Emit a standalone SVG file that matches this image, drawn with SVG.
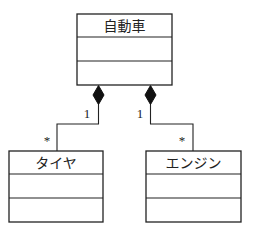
<svg xmlns="http://www.w3.org/2000/svg" width="253" height="232" viewBox="0 0 253 232">
<style>
.box{fill:#fff;stroke:#222;stroke-width:1.3}
.div{stroke:#222;stroke-width:1.1}
.name{font-family:"Noto Sans CJK JP","Liberation Sans",sans-serif;font-size:14px;fill:#222;text-anchor:middle}
.mult{font-family:"Liberation Serif",serif;font-size:13px;fill:#222;text-anchor:middle}
.conn{fill:none;stroke:#222;stroke-width:1.1}
.dia{fill:#111;stroke:#111;stroke-width:1}
</style>
<rect width="253" height="232" fill="#fff"/>
<g id="connectors">
<polyline class="conn" points="98.5,104 98.5,124 57,124 57,151"/>
<polygon class="dia" points="98.5,85.5 104,95 98.5,104.5 93,95"/>
<polyline class="conn" points="150.5,104 150.5,124 193,124 193,151"/>
<polygon class="dia" points="150.5,85.5 156,95 150.5,104.5 145,95"/>
<text class="mult" x="87" y="118">1</text>
<text class="mult" x="140" y="118">1</text>
<text class="mult" x="47" y="145">*</text>
<text class="mult" x="182" y="145">*</text>
</g>
<g id="car">
<rect class="box" x="77" y="14" width="95" height="71"/>
<line class="div" x1="77" y1="37" x2="172" y2="37"/>
<line class="div" x1="77" y1="61" x2="172" y2="61"/>
<text class="name" x="124.5" y="31">自動車</text>
</g>
<g id="tire">
<rect class="box" x="9" y="151" width="94" height="71"/>
<line class="div" x1="9" y1="174" x2="103" y2="174"/>
<line class="div" x1="9" y1="198" x2="103" y2="198"/>
<text class="name" x="56" y="168">タイヤ</text>
</g>
<g id="engine">
<rect class="box" x="146" y="151" width="95" height="71"/>
<line class="div" x1="146" y1="174" x2="241" y2="174"/>
<line class="div" x1="146" y1="198" x2="241" y2="198"/>
<text class="name" x="193.5" y="168">エンジン</text>
</g>
</svg>
